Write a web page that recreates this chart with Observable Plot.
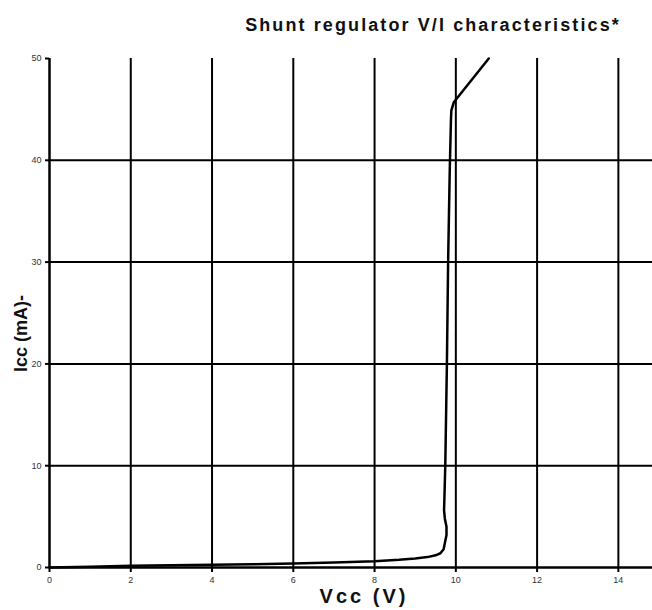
<!DOCTYPE html>
<html>
<head>
<meta charset="utf-8">
<script src="https://cdn.jsdelivr.net/npm/d3@7"></script>
<script src="https://cdn.jsdelivr.net/npm/@observablehq/plot@0.6"></script>
<style>
  html, body { margin: 0; padding: 0; background: #fff; }
  #chart svg { display: block; }
</style>
</head>
<body>
<div id="chart"></div>
<script>
const titleText = "Shunt regulator V/I characteristics*";
const xLabel = "Vcc (V)";
const yLabel = "Icc (mA)-";

const xTicks = [0, 2, 4, 6, 8, 10, 12, 14];
const yTicks = [0, 10, 20, 30, 40, 50];
const xGrid = [2, 4, 6, 8, 10, 12, 14];
const yGrid = [10, 20, 30, 40];

// Vcc (V) and Icc (mA)
const vcc = [0, 1, 2, 3, 4, 5, 6, 7, 8, 8.6, 9.0, 9.3, 9.5, 9.62, 9.7, 9.73, 9.77, 9.77, 9.73, 9.71, 9.72, 9.74, 9.78, 9.81, 9.85, 9.88, 9.89, 9.95, 10.81];
const icc = [0, 0.08, 0.16, 0.21, 0.26, 0.32, 0.39, 0.5, 0.62, 0.75, 0.88, 1.02, 1.2, 1.4, 1.8, 2.4, 3.2, 4.0, 4.8, 5.6, 7.0, 10, 20, 30, 39, 44, 44.9, 45.7, 50];

const curve = vcc.map((v, i) => ({v, i: icc[i]}));

const chart = Plot.plot({
  width: 652,
  height: 610,
  marginTop: 58,
  marginLeft: 49,
  marginRight: 0,
  marginBottom: 43,
  style: {fontFamily: "'Liberation Sans', Arial, sans-serif", background: "#fff", color: "#000"},
  x: {domain: [0, 14.84]},
  y: {domain: [0, 50]},
  marks: [
    Plot.ruleX(xGrid, {stroke: "#000", strokeWidth: 2}),
    Plot.ruleY(yGrid, {stroke: "#000", strokeWidth: 2}),
    Plot.ruleX([0], {stroke: "#000", strokeWidth: 2.5}),
    Plot.ruleY([0], {stroke: "#000", strokeWidth: 2.5}),
    Plot.axisX({ticks: xTicks, tickSize: 5, tickPadding: 4, fontSize: 9, strokeWidth: 2, label: null, fill: "#333", stroke: "#000"}),
    Plot.axisY({ticks: yTicks, tickSize: 4, tickPadding: 4, fontSize: 9, strokeWidth: 2, label: null, fill: "#333", stroke: "#000"}),
    Plot.line(curve, {x: "v", y: "i", stroke: "#000", strokeWidth: 2.5, strokeLinejoin: "round"}),
    Plot.text([titleText], {frameAnchor: "top", dx: 82, dy: -28, lineAnchor: "bottom", textAnchor: "middle", fontSize: 18, fontWeight: "bold", fill: "#111"}),
    Plot.text([xLabel], {frameAnchor: "bottom", dx: 13, dy: 35, lineAnchor: "bottom", textAnchor: "middle", fontSize: 20, fontWeight: "bold", fill: "#111"}),
    Plot.text([yLabel], {frameAnchor: "left", dx: -23, dy: 20.5, rotate: -90, lineAnchor: "bottom", textAnchor: "middle", fontSize: 18, fontWeight: "bold", fill: "#111"})
  ]
});

// widen letter spacing on title and x label to match reference
chart.querySelectorAll("text").forEach(t => {
  if (t.textContent === titleText) t.setAttribute("letter-spacing", "2.1");
  if (t.textContent === xLabel) t.setAttribute("letter-spacing", "3");
});

document.getElementById("chart").appendChild(chart);
</script>
</body>
</html>
